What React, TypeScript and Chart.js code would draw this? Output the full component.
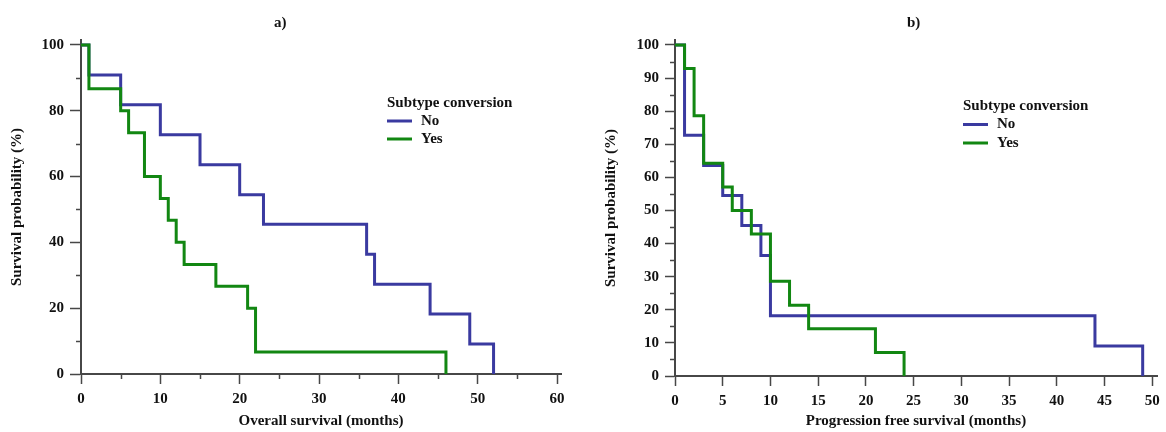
import React, { useEffect, useRef } from 'react';
import { Chart, registerables } from 'chart.js';

Chart.register(...registerables);

const FONT = '"Liberation Serif", "Times New Roman", serif';
const BLUE = 'rgb(58,58,160)';
const GREEN = 'rgb(18,135,18)';
const AXIS = '#474747';
const TEXT = '#111111';
const FS = 15;

const seriesLabels = ['No', 'Yes'];
const legendTitle = 'Subtype conversion';

// Panel a) Overall survival
const osNoMonths = [0, 1, 5, 10, 15, 20, 23, 36, 37, 44, 49, 52];
const osNoSurvival = [100, 90.9, 81.8, 72.7, 63.6, 54.5, 45.5, 36.4, 27.3, 18.2, 9.1, 0];
const osYesMonths = [0, 1, 5, 6, 8, 10, 11, 12, 13, 17, 21, 22, 46];
const osYesSurvival = [100, 86.7, 80, 73.3, 60, 53.3, 46.7, 40, 33.3, 26.7, 20, 6.7, 0];
const osXTicks = [0, 10, 20, 30, 40, 50, 60];
const osXMinorTicks = [5, 15, 25, 35, 45, 55];
const osYTicks = [0, 20, 40, 60, 80, 100];
const osYMinorTicks = [10, 30, 50, 70, 90];

// Panel b) Progression free survival
const pfsNoMonths = [0, 1, 3, 5, 7, 9, 10, 44, 49];
const pfsNoSurvival = [100, 72.7, 63.6, 54.5, 45.5, 36.4, 18.2, 9.1, 0];
const pfsYesMonths = [0, 1, 2, 3, 5, 6, 8, 10, 12, 14, 21, 24];
const pfsYesSurvival = [100, 92.9, 78.6, 64.3, 57.1, 50, 42.9, 28.6, 21.4, 14.3, 7.1, 0];
const pfsXTicks = [0, 5, 10, 15, 20, 25, 30, 35, 40, 45, 50];
const pfsXMinorTicks: number[] = [];
const pfsYTicks = [0, 10, 20, 30, 40, 50, 60, 70, 80, 90, 100];
const pfsYMinorTicks = [5, 15, 25, 35, 45, 55, 65, 75, 85, 95];

const font = (size: number) => ({ family: FONT, size, weight: 'bold' as const, lineHeight: 1.2 });

const decorPlugin = {
  id: 'decor',
  afterDraw(chart: any, _args: any, opts: any) {
    const ctx = chart.ctx;
    const xs = chart.scales.x;
    const ys = chart.scales.y;
    const area = chart.chartArea;
    ctx.save();
    // minor ticks
    ctx.strokeStyle = AXIS;
    ctx.lineWidth = 1.5;
    (opts.xMinor || []).forEach((v: number) => {
      const px = Math.round(xs.getPixelForValue(v)) + 0.5;
      ctx.beginPath();
      ctx.moveTo(px, xs.top);
      ctx.lineTo(px, xs.top + opts.minorLen);
      ctx.stroke();
    });
    (opts.yMinor || []).forEach((v: number) => {
      const py = Math.round(ys.getPixelForValue(v)) + 0.5;
      ctx.beginPath();
      ctx.moveTo(ys.right, py);
      ctx.lineTo(ys.right - opts.minorLen, py);
      ctx.stroke();
    });
    // panel title
    ctx.fillStyle = TEXT;
    ctx.textBaseline = 'middle';
    ctx.textAlign = 'center';
    ctx.font = `bold ${opts.titleSize}px ${FONT}`;
    ctx.fillText(opts.title, area.left + opts.titleFrac * (area.right - area.left), opts.titleY);
    // legend
    const lx = area.left + opts.legendX;
    const ly = area.top + opts.legendY;
    ctx.textAlign = 'left';
    ctx.font = `bold ${opts.legendSize}px ${FONT}`;
    ctx.fillText(opts.legendTitle, lx, ly);
    chart.data.datasets.forEach((ds: any, i: number) => {
      const y = ly + opts.legendGap * (i + 1);
      ctx.strokeStyle = ds.borderColor;
      ctx.lineWidth = 3;
      ctx.beginPath();
      ctx.moveTo(lx, y);
      ctx.lineTo(lx + 25, y);
      ctx.stroke();
      ctx.fillStyle = TEXT;
      ctx.fillText(ds.label, lx + 34, y);
    });
    ctx.restore();
  },
};

type PanelDef = {
  title: string;
  xTitle: string;
  months: number[][];
  survival: number[][];
  xMax: number;
  yMax: number;
  xTicks: number[];
  xMinor: number[];
  yTicks: number[];
  yMinor: number[];
  padRight: number;
  yWidth: number;
  xHeight: number;
  yTickLen: number;
  yTitlePad: number;
  titleFrac: number;
  legendX: number;
  legendY: number;
  legendGap: number;
};

function makeConfig(p: PanelDef): any {
  const colors = [BLUE, GREEN];
  return {
    type: 'line',
    data: {
      datasets: p.months.map((m, i) => ({
        label: seriesLabels[i],
        data: m.map((t, j) => ({ x: t, y: p.survival[i][j] })),
        borderColor: colors[i],
        backgroundColor: colors[i],
        borderWidth: 3,
        stepped: 'before',
        pointRadius: 0,
        fill: false,
        order: p.months.length - i,
        borderCapStyle: 'butt',
        borderJoinStyle: 'miter',
      })),
    },
    options: {
      responsive: false,
      animation: false,
      events: [],
      layout: { padding: { top: 40, right: p.padRight, bottom: 0, left: 0 } },
      plugins: {
        legend: { display: false },
        tooltip: { enabled: false },
        title: { display: false },
        decor: {
          xMinor: p.xMinor,
          yMinor: p.yMinor,
          minorLen: 5,
          title: p.title,
          titleFrac: p.titleFrac,
          titleY: 23,
          titleSize: FS,
          legendTitle,
          legendX: p.legendX,
          legendY: p.legendY,
          legendGap: p.legendGap,
          legendSize: FS,
        },
      },
      scales: {
        x: {
          type: 'linear',
          min: 0,
          max: p.xMax,
          afterBuildTicks: (s: any) => {
            s.ticks = p.xTicks.map((v) => ({ value: v }));
          },
          afterFit: (s: any) => {
            s.height = p.xHeight;
          },
          grid: {
            drawOnChartArea: false,
            drawTicks: true,
            tickLength: 10,
            tickColor: AXIS,
            tickWidth: 1.5,
            color: AXIS,
          },
          border: { display: true, color: AXIS, width: 2 },
          ticks: { font: font(FS), color: TEXT, padding: 6, maxRotation: 0, autoSkip: false },
          title: {
            display: true,
            text: p.xTitle,
            font: font(FS),
            color: TEXT,
            padding: { top: 0, bottom: 2 },
          },
        },
        y: {
          type: 'linear',
          min: 0,
          max: p.yMax,
          afterBuildTicks: (s: any) => {
            s.ticks = p.yTicks.map((v) => ({ value: v }));
          },
          afterFit: (s: any) => {
            s.width = p.yWidth;
          },
          grid: {
            drawOnChartArea: false,
            drawTicks: true,
            tickLength: p.yTickLen,
            tickColor: AXIS,
            tickWidth: 1.5,
            color: AXIS,
          },
          border: { display: true, color: AXIS, width: 2 },
          ticks: { font: font(FS), color: TEXT, padding: 6, autoSkip: false },
          title: {
            display: true,
            text: 'Survival probability (%)',
            font: font(FS),
            color: TEXT,
            padding: { top: p.yTitlePad, bottom: 0 },
          },
        },
      },
    },
    plugins: [decorPlugin],
  };
}

const panelA: PanelDef = {
  title: 'a)',
  xTitle: 'Overall survival (months)',
  months: [osNoMonths, osYesMonths],
  survival: [osNoSurvival, osYesSurvival],
  xMax: 60.5,
  yMax: 101.5,
  xTicks: osXTicks,
  xMinor: osXMinorTicks,
  yTicks: osYTicks,
  yMinor: osYMinorTicks,
  padRight: 22,
  yWidth: 81,
  xHeight: 58,
  yTickLen: 11,
  yTitlePad: 8.5,
  titleFrac: 0.415,
  legendX: 306,
  legendY: 63,
  legendGap: 18,
};

const panelB: PanelDef = {
  title: 'b)',
  xTitle: 'Progression free survival (months)',
  months: [pfsNoMonths, pfsYesMonths],
  survival: [pfsNoSurvival, pfsYesSurvival],
  xMax: 50.5,
  yMax: 101.5,
  xTicks: pfsXTicks,
  xMinor: pfsXMinorTicks,
  yTicks: pfsYTicks,
  yMinor: pfsYMinorTicks,
  padRight: 9,
  yWidth: 92,
  xHeight: 56,
  yTickLen: 10,
  yTitlePad: 19.5,
  titleFrac: 0.495,
  legendX: 288,
  legendY: 66,
  legendGap: 18.5,
};

function Panel({ def, left }: { def: PanelDef; left: number }) {
  const ref = useRef<HTMLCanvasElement | null>(null);
  useEffect(() => {
    if (!ref.current) return;
    const chart = new Chart(ref.current, makeConfig(def));
    return () => chart.destroy();
  }, [def]);
  return (
    <div style={{ position: 'absolute', left, top: 0, width: 583, height: 432 }}>
      <canvas ref={ref} width={583} height={432} style={{ display: 'block' }} />
    </div>
  );
}

export default function App() {
  return (
    <div
      style={{
        position: 'fixed',
        left: 0,
        top: 0,
        width: 1166,
        height: 432,
        background: '#ffffff',
        overflow: 'hidden',
      }}
    >
      <Panel def={panelA} left={0} />
      <Panel def={panelB} left={583} />
    </div>
  );
}
